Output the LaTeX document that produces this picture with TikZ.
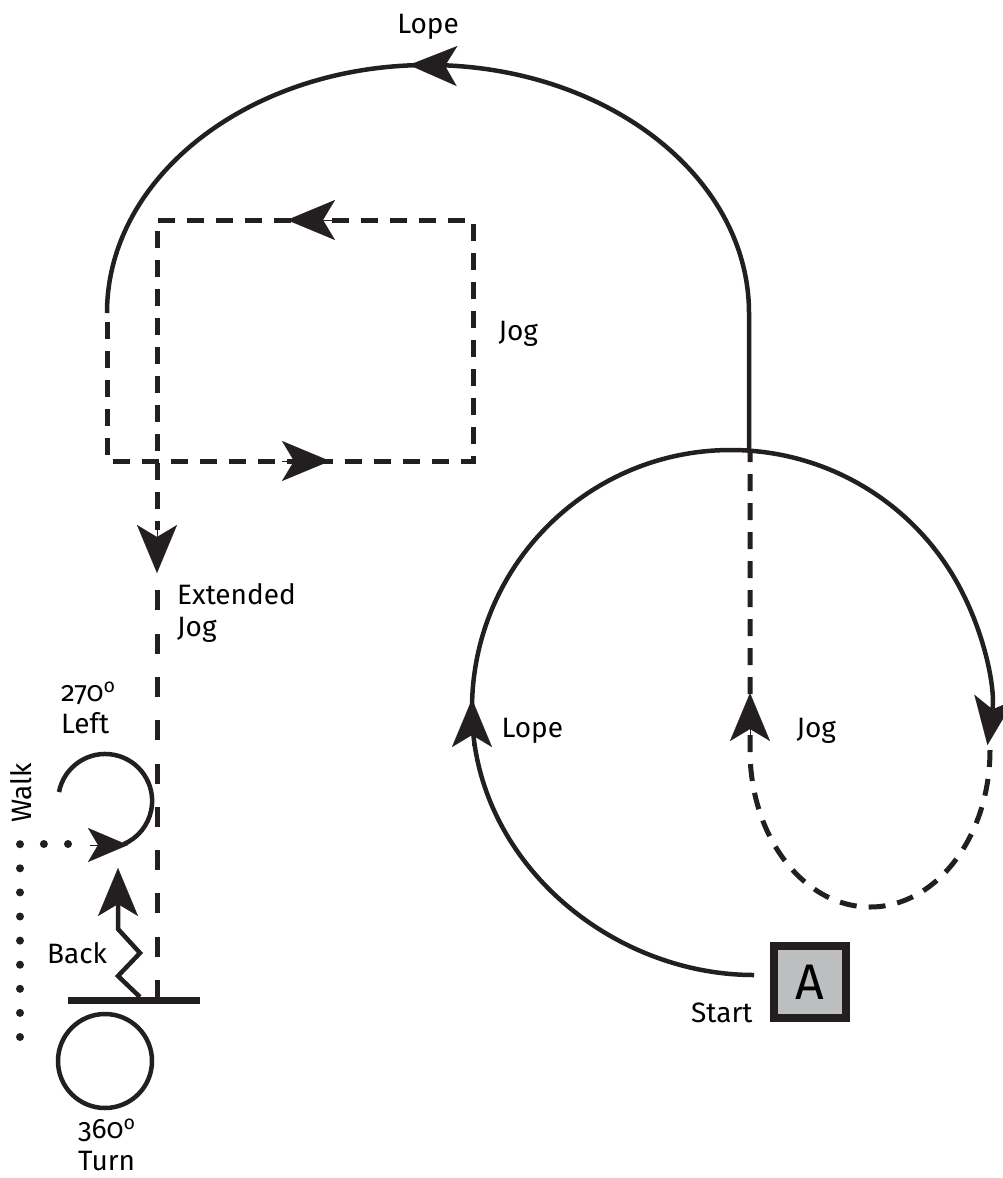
\documentclass[tikz,border=0pt]{standalone}
\usepackage{fontspec}
\setmainfont{Fira Sans}[Numbers=OldStyle]
\usepackage{tikz}
\usetikzlibrary{arrows.meta}
\definecolor{ink}{HTML}{231F20}
\definecolor{boxgrey}{HTML}{BCBEC0}

\begin{document}
\begin{tikzpicture}[x=1pt,y=-1pt,line join=miter,
    font=\fontsize{28}{32}\selectfont,
    >={Stealth[length=48pt,width=40pt,inset=12pt,line width=0.1pt]},
    lope/.style={draw=ink,line width=4.5pt},
    jog/.style={draw=ink,line width=5pt,dash pattern=on 17pt off 12pt},
    extjog/.style={draw=ink,line width=5pt,dash pattern=on 20pt off 23.3pt},
    walkdots/.style={draw=ink,line width=8pt,line cap=round,dash pattern=on 0pt off 24.1pt},
    tipmark/.style={draw=ink,fill=ink,line width=1pt,->},
    tipsmall/.style={draw=ink,fill=ink,line width=1pt,
      -{Stealth[length=40pt,width=34pt,inset=10pt,line width=0.1pt]}}]
  \useasboundingbox (0,0) rectangle (1003,1178);

  % upper lope
  \draw[lope] (749,451) -- (749,313)
    arc[start angle=0,end angle=-180,x radius=321,y radius=248];
  \draw[tipmark] (457,66) -- (409,65);
  \node[anchor=base] (lopetop) at (428,33) {Lope};

  % jog square and extended jog
  \draw[jog] (107,322) -- (107,461) -- (473,461) -- (473,220) -- (157,220) -- (157,530);
  \draw[tipmark] (282,461) -- (330,461);
  \draw[tipmark] (335,220) -- (287,220);
  \draw[tipmark] (157,525) -- (157,573);
  \draw[extjog] (157,1000) -- (157,575);
  \node[anchor=base west] (jogsq) at (495,340) {Jog};
  \node[anchor=north west,align=left,inner sep=0pt] (extlbl) at (177,583) {Extended\\Jog};

  % lower lope circle from the start
  \draw[lope,->] (754,975) .. controls (610,975) and (472,860) .. (472,709)
    arc[start angle=180,end angle=368,radius=259];
  \draw[tipmark] (472,746) -- (472,699);
  \node[anchor=base west] (lopelow) at (498,737) {Lope};

  % jog back to the centre
  \draw[jog] (990,750) arc[start angle=0,end angle=180,x radius=120,y radius=157]
    -- (750,452);
  \draw[tipmark] (750,742) -- (750,693);
  \node[anchor=base west] (jogU) at (793,737) {Jog};

  % start marker
  \node[draw=ink,line width=8pt,fill=boxgrey,minimum size=72pt,inner sep=0pt,
        font=\fontsize{50}{50}\selectfont] (boxA) at (810,982) {A};
  \node[anchor=base east] (startlbl) at (756,1022) {Start};

  % stop, back, turns and walk
  \draw[draw=ink,line width=7pt] (68,1000) -- (200,1000);
  \draw[lope,->] (140,997) -- (118,976) -- (140,953) -- (118,929) -- (118,868);
  \node (backlbl) at (77,953) {Back};
  \draw[lope] (59,792) arc[start angle=191,end angle=427,radius=47];
  \node[anchor=north west,align=left,inner sep=0pt] (leftlbl) at (61,682) {270\textsuperscript{o}\\Left};
  \draw[walkdots] (20,1037) -- (20,844) -- (92,844);
  \draw[tipsmall] (90,845) -- (128,845);
  \node[rotate=90] (walklbl) at (21,793) {Walk};
  \draw[lope] (105,1061) circle[radius=47];
  \node[anchor=north west,align=left,inner sep=0pt] (turnlbl) at (78,1119) {360\textsuperscript{o}\\Turn};
\end{tikzpicture}
\end{document}
